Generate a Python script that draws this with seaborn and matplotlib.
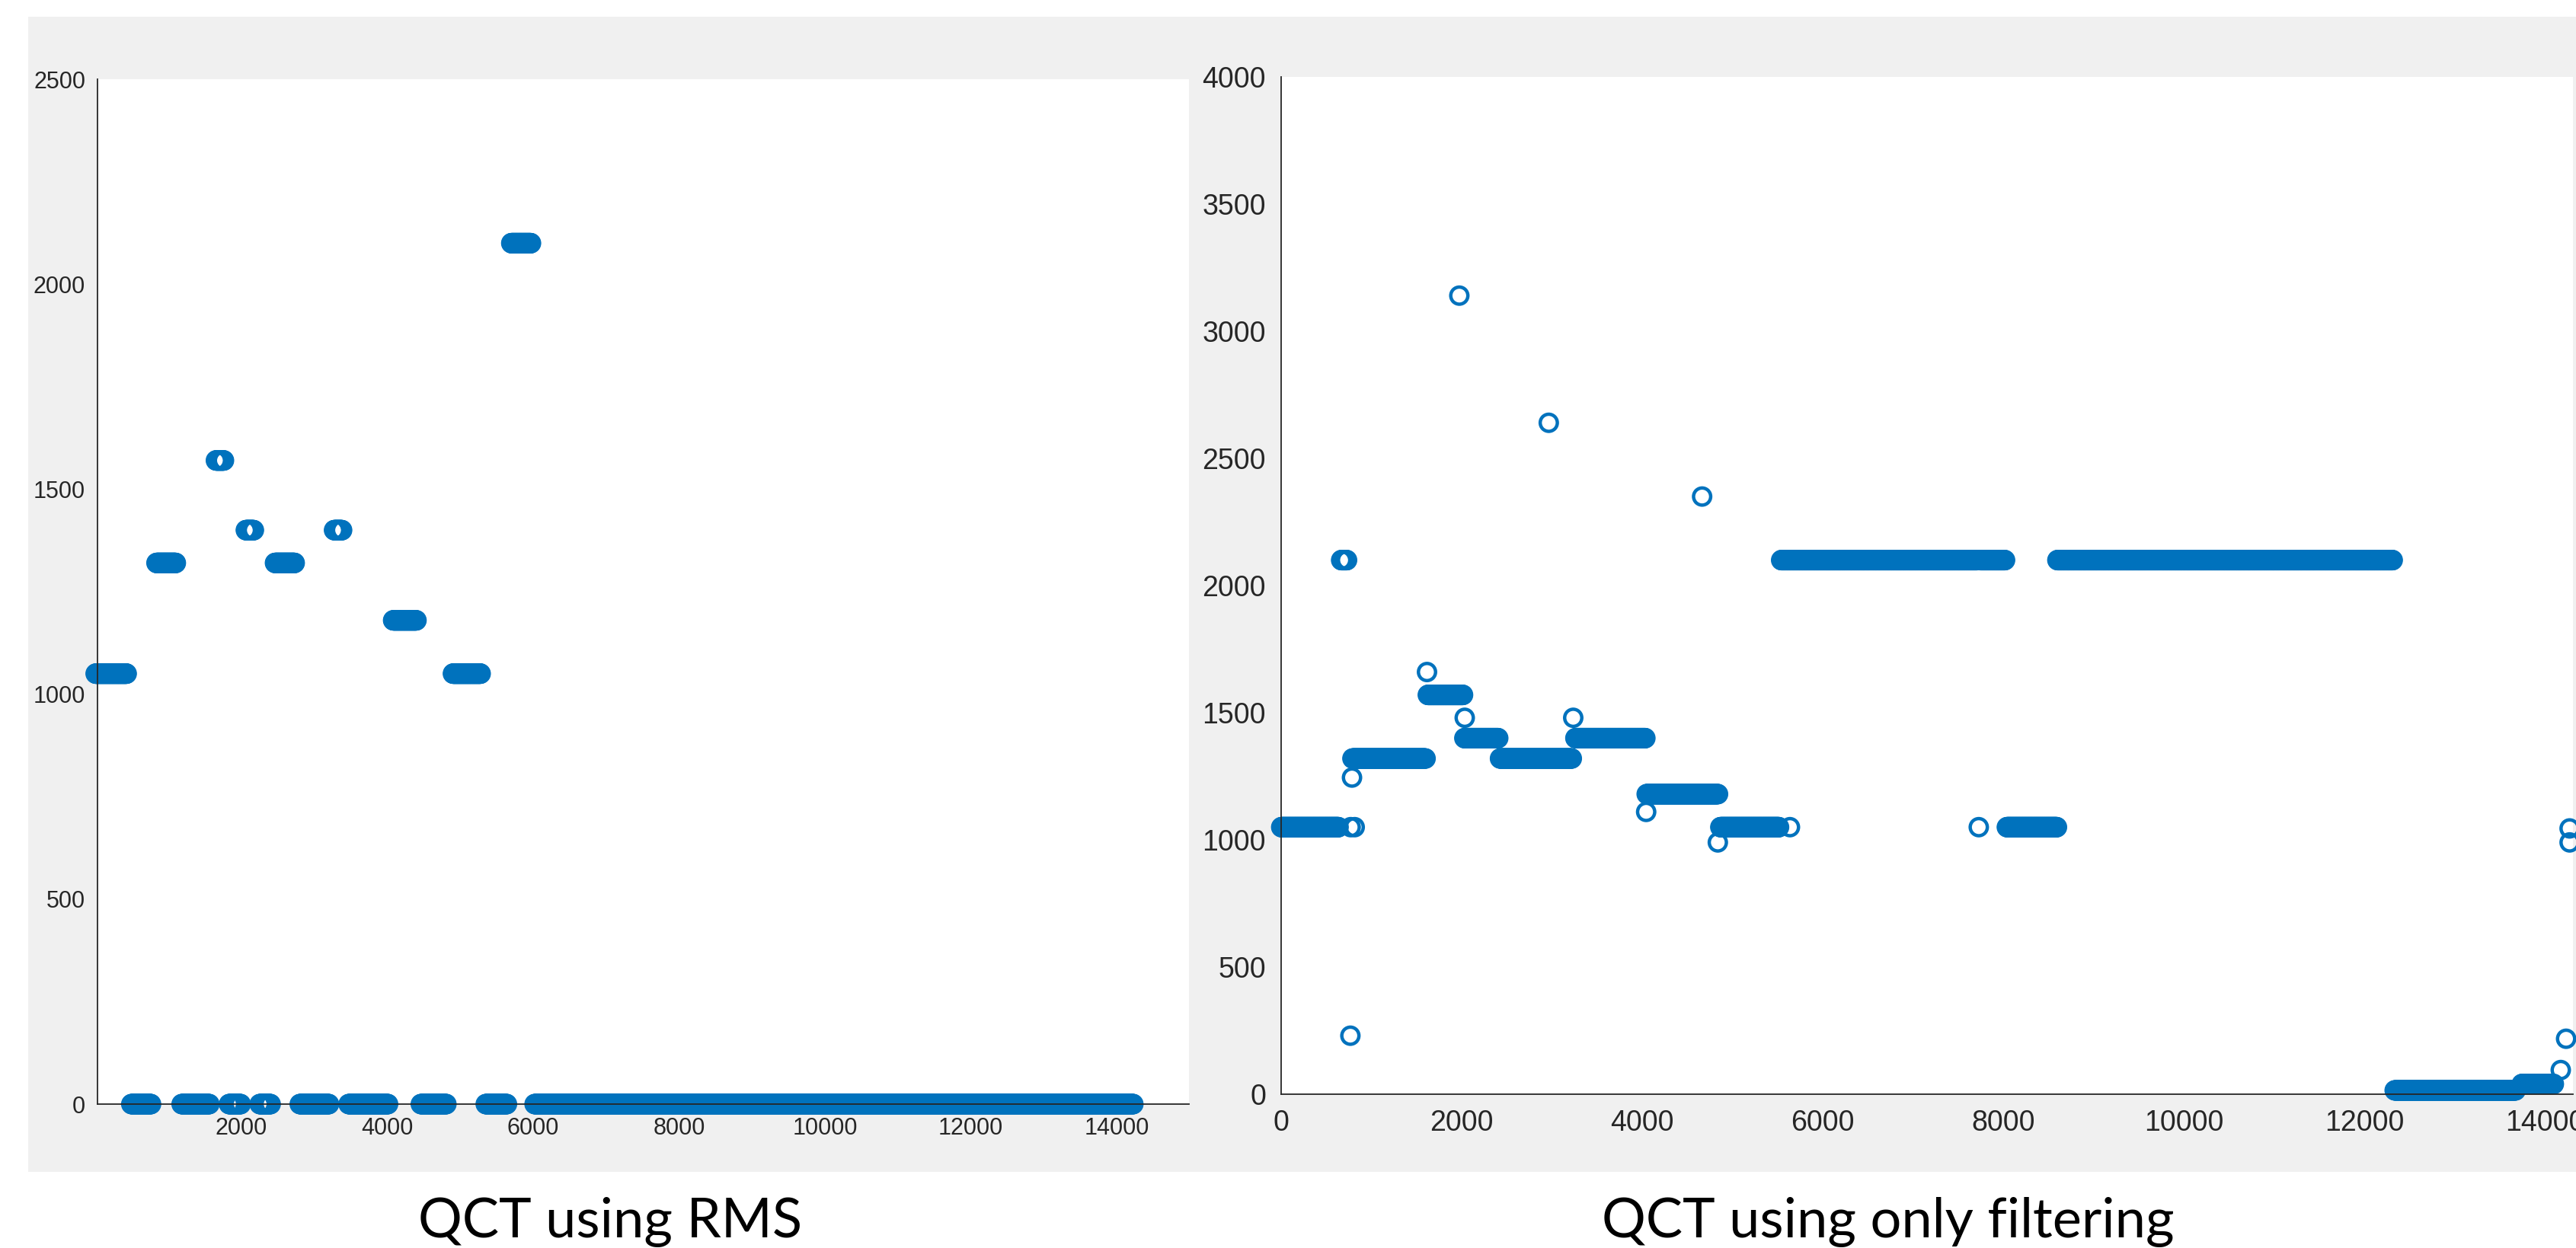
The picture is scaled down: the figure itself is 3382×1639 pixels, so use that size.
import numpy as np
import matplotlib
matplotlib.use("Agg")
import matplotlib.pyplot as plt
from matplotlib.patches import Rectangle
import seaborn as sns

# QCT using RMS -- runs of constant value: sample index start / end and level
rms_start = [1, 490, 835, 1180, 1650, 1830, 2060, 2250, 2460, 2800, 3270, 3470, 4080, 4460, 4900, 5350, 5700, 6020]
rms_end = [430, 760, 1100, 1560, 1760, 1990, 2170, 2400, 2730, 3200, 3380, 4010, 4400, 4810, 5280, 5640, 5970, 14230]
rms_level = [1050, 0, 1320, 0, 1570, 0, 1400, 0, 1320, 0, 1400, 0, 1180, 0, 1050, 0, 2100, 0]

# QCT using only filtering -- runs
filt_start = [1, 665, 790, 1625, 2030, 2425, 3260, 4050, 4866, 5540, 7745, 8040, 8600, 12337, 13745]
filt_end = [640, 730, 1600, 2015, 2405, 3220, 4035, 4840, 5520, 7710, 8020, 8598, 12316, 13680, 14100]
filt_level = [1050, 2100, 1320, 1570, 1400, 1320, 1400, 1180, 1050, 2100, 2100, 1050, 2100, 15, 40]

# single stray samples
filt_out_x = [770, 815, 767, 785, 1616, 1974, 2034, 2965, 3236, 4044, 4664, 4838, 5637, 7729, 14177, 14236, 14275, 14275]
filt_out_y = [1050, 1050, 230, 1245, 1660, 3140, 1480, 2640, 1480, 1110, 2350, 990, 1050, 1050, 95, 218, 1045, 990]

captions = ["QCT using RMS", "QCT using only filtering"]

BLUE = "#0072BD"
INK = "#262626"


def expand(starts, ends, levels, step=5):
    xs, ys = [], []
    for a, b, v in zip(starts, ends, levels):
        x = np.arange(a, b + 1, step)
        xs.append(x)
        ys.append(np.full(len(x), v))
    return np.concatenate(xs), np.concatenate(ys)


def draw_points(ax, x, y):
    sns.scatterplot(x=x, y=y, ax=ax, marker="o", s=262, legend=False)
    pts = ax.collections[-1]
    pts.set_facecolor("none")
    pts.set_edgecolor(BLUE)
    pts.set_linewidth(3.2)
    pts.set_clip_on(False)


def style_axes(ax, size, xpad, ypad):
    ax.set_facecolor("white")
    for side in ["top", "right"]:
        ax.spines[side].set_visible(False)
    for side in ["left", "bottom"]:
        ax.spines[side].set_color(INK)
        ax.spines[side].set_linewidth(1.3)
    ax.tick_params(direction="in", length=10, width=1.2, color=INK,
                   labelcolor=INK, labelsize=size)
    ax.tick_params(axis="x", pad=xpad)
    ax.tick_params(axis="y", pad=ypad)
    for lab in ax.get_xticklabels() + ax.get_yticklabels():
        lab.set_fontfamily("Liberation Sans")


sns.set_style("white")
W, H = 3382, 1639
fig = plt.figure(figsize=(W / 100, H / 100), dpi=100)
fig.patch.set_facecolor("white")

# grey window background
fig.add_artist(Rectangle((37 / W, 100 / H), (W - 37) / W, 1517 / H,
                         transform=fig.transFigure, facecolor="#f0f0f0",
                         edgecolor="none", zorder=-5))

ax1 = fig.add_axes([128 / W, (H - 1450) / H, 1433 / W, 1346 / H])
ax2 = fig.add_axes([1682 / W, (H - 1437) / H, 1696 / W, 1336 / H])

x1, y1 = expand(rms_start, rms_end, rms_level)
draw_points(ax1, x1, y1)
ax1.set_xlim(26, 14993)
ax1.set_ylim(0, 2500)
ax1.set_xticks(np.arange(2000, 14001, 2000))
ax1.set_yticks(np.arange(0, 2501, 500))
style_axes(ax1, 22, 12, 11.5)

x2, y2 = expand(filt_start, filt_end, filt_level)
draw_points(ax2, x2, y2)
draw_points(ax2, np.array(filt_out_x), np.array(filt_out_y))
ax2.set_xlim(0, 14312)
ax2.set_ylim(0, 4000)
ax2.set_xticks(np.arange(0, 14001, 2000))
ax2.set_yticks(np.arange(0, 4001, 500))
style_axes(ax2, 27, 14.5, 14.4)

for ax in (ax1, ax2):
    ax.set_xlabel("")
    ax.set_ylabel("")

fig.text(801 / W, (H - 1625) / H, captions[0], ha="center", va="baseline",
         fontsize=52, family="Lato", color="black")
fig.text(2479 / W, (H - 1625) / H, captions[1], ha="center", va="baseline",
         fontsize=52, family="Lato", color="black")

fig.savefig("out.png", dpi=100)
